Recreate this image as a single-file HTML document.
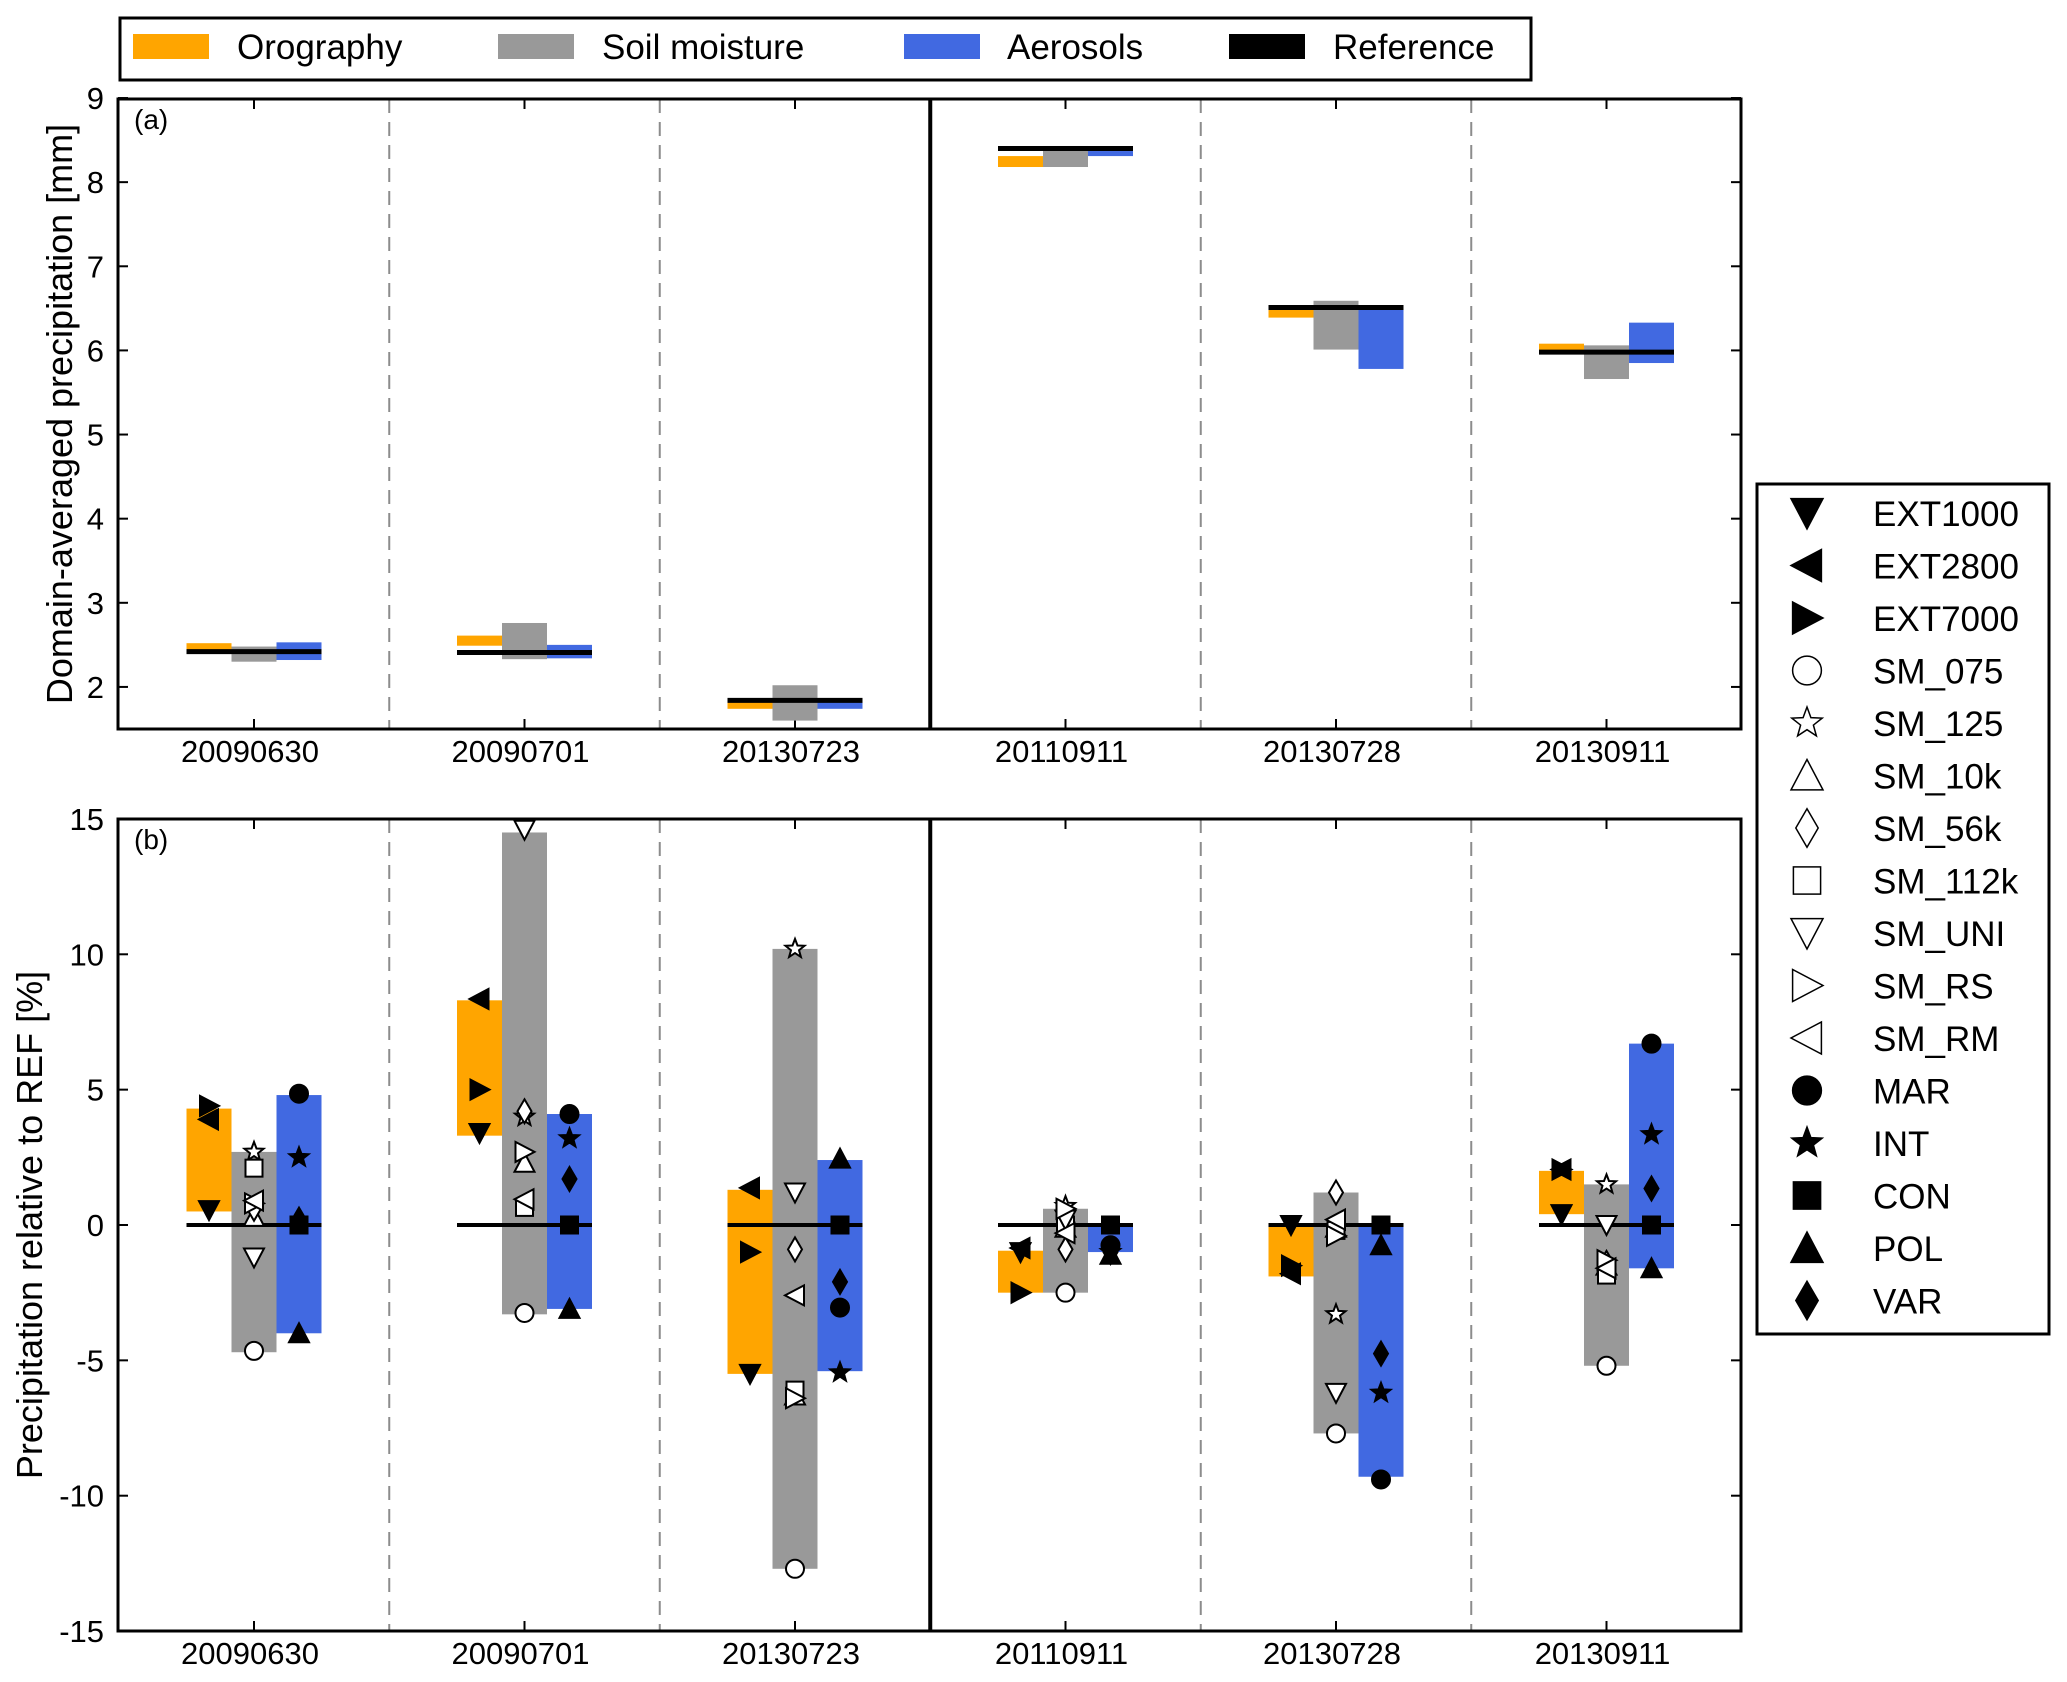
<!DOCTYPE html>
<html><head><meta charset="utf-8">
<style>
html,body{margin:0;padding:0;background:#fff;}
svg{display:block;font-family:"Liberation Sans",Arial,sans-serif;}
</style></head>
<body>
<svg id="fig" width="2067" height="1682" viewBox="0 0 2067 1682" xmlns="http://www.w3.org/2000/svg">
<g id="layer"></g>
</svg>
<script>
const dates = ["20090630","20090701","20130723","20110911","20130728","20130911"];
// Panel (a): domain-averaged precipitation [mm]
const refA = [2.42,2.41,1.84,8.40,6.51,5.98];
const orogLowA = [2.42,2.49,1.74,8.18,6.39,5.98];
const orogHighA = [2.52,2.61,1.86,8.31,6.53,6.08];
const soilLowA = [2.30,2.33,1.60,8.18,6.01,5.66];
const soilHighA = [2.48,2.76,2.02,8.43,6.59,6.06];
const aeroLowA = [2.32,2.34,1.74,8.31,5.78,5.85];
const aeroHighA = [2.53,2.50,1.85,8.37,6.53,6.33];
const yTicksA = [2,3,4,5,6,7,8,9];
// Panel (b): precipitation relative to REF [%]
const orogLowB = [0.5,3.3,-5.5,-2.5,-1.9,0.4];
const orogHighB = [4.3,8.3,1.3,-0.95,0,2.0];
const soilLowB = [-4.7,-3.3,-12.7,-2.5,-7.7,-5.2];
const soilHighB = [2.7,14.5,10.2,0.6,1.2,1.5];
const aeroLowB = [-4.0,-3.1,-5.4,-1.0,-9.3,-1.6];
const aeroHighB = [4.8,4.1,2.4,0,0,6.7];
const yTicksB = [-15,-10,-5,0,5,10,15];
// members
const EXT1000 = [0.55,3.4,-5.5,-1.0,0,0.4];
const EXT2800 = [3.9,8.35,1.37,-0.85,-1.8,2.05];
const EXT7000 = [4.4,5.0,-1.0,-2.5,-1.5,2.05];
const SM_075 = [-4.65,-3.25,-12.7,-2.5,-7.7,-5.2];
const SM_125 = [2.7,4.0,10.2,0.7,-3.3,1.5];
const SM_10k = [0.3,2.3,-6.3,-0.1,-0.1,-1.5];
const SM_56k = [0.6,4.2,-0.9,-0.9,1.2,-1.4];
const SM_112k = [2.1,0.65,-6.1,0,-0.2,-1.85];
const SM_UNI = [-1.2,14.6,1.2,0.2,-6.2,0];
const SM_RS = [0.8,2.7,-6.4,0.6,-0.4,-1.3];
const SM_RM = [0.9,0.95,-2.6,-0.3,0.2,-1.6];
const MAR = [4.85,4.1,-3.05,-0.75,-9.4,6.7];
const INT = [2.5,3.2,-5.45,-1.0,-6.2,3.35];
const CON = [0,0,0,0,0,0];
const POL = [-4.0,-3.1,2.45,-1.1,-0.75,-1.6];
const VAR = [0.2,1.7,-2.1,-1.0,-4.75,1.35];

const NS="http://www.w3.org/2000/svg";
const L=document.getElementById('layer');
function el(tag,attrs,parent){const e=document.createElementNS(NS,tag);for(const k in attrs)e.setAttribute(k,attrs[k]);(parent||L).appendChild(e);return e;}

const X0=118,X1=1741;
const xs=i=>254+270.5*i;
const BW=45;
const yA=v=>729-(v-1.5)*84.13;
const yB=v=>1225-v*27.07;
const ORANGE="#FFA500",GRAY="#999999",BLUE="#4169E1";

function marker(g,type,cx,cy,s,filled,sw){
  const fill=filled?"#000":"#fff";const st={fill:fill,stroke:"#000","stroke-width":sw};
  let e;
  if(type==='o'){e=el('circle',Object.assign({cx:cx,cy:cy,r:s*0.9},st),g);}
  else if(type==='s'){e=el('rect',Object.assign({x:cx-s*0.85,y:cy-s*0.85,width:s*1.7,height:s*1.7},st),g);}
  else if(type==='d'){e=el('polygon',Object.assign({points:`${cx},${cy-s*1.2} ${cx+s*0.7},${cy} ${cx},${cy+s*1.2} ${cx-s*0.7},${cy}`},st),g);}
  else if(type==='v'){e=el('polygon',Object.assign({points:`${cx-s},${cy-s*0.9} ${cx+s},${cy-s*0.9} ${cx},${cy+s}`},st),g);}
  else if(type==='^'){e=el('polygon',Object.assign({points:`${cx-s},${cy+s*0.9} ${cx+s},${cy+s*0.9} ${cx},${cy-s}`},st),g);}
  else if(type==='<'){e=el('polygon',Object.assign({points:`${cx+s*0.9},${cy-s} ${cx+s*0.9},${cy+s} ${cx-s},${cy}`},st),g);}
  else if(type==='>'){e=el('polygon',Object.assign({points:`${cx-s*0.9},${cy-s} ${cx-s*0.9},${cy+s} ${cx+s},${cy}`},st),g);}
  else if(type==='*'){let p=[];for(let k=0;k<10;k++){const r=k%2?s*0.42:s;const a=-Math.PI/2+k*Math.PI/5;p.push((cx+r*Math.cos(a)).toFixed(1)+","+(cy+r*Math.sin(a)).toFixed(1));}e=el('polygon',Object.assign({points:p.join(' ')},st),g);}
  return e;
}

function panel(top,bottom,yf,ticks,label,letter,labelX,pname){
  const g=el('g',{});
  
  
  for(let i=0;i<5;i++){
    if(i===2)continue;
    const x=xs(i+0.5);
    const d=el('line',{x1:x,x2:x,y1:top,y2:bottom,stroke:"#8c8c8c","stroke-width":2,"stroke-dasharray":"14,9"},g);
    
    
  }
  const s=el('line',{x1:xs(2.5),x2:xs(2.5),y1:top,y2:bottom,stroke:"#000","stroke-width":4},g);
  
  
  ticks.forEach(t=>{
    const y=yf(t);
    el('line',{x1:X0,x2:X0+10,y1:y,y2:y,stroke:"#000","stroke-width":2},g);
    el('line',{x1:X1-10,x2:X1,y1:y,y2:y,stroke:"#000","stroke-width":2},g);
    const tx=el('text',{x:104,y:y+11,"font-size":31,"text-anchor":"end"},g);
    tx.textContent=t;
    
    
  });
  dates.forEach((d,i)=>{
    const x=xs(i);
    el('line',{x1:x,x2:x,y1:top,y2:top+10,stroke:"#000","stroke-width":2},g);
    el('line',{x1:x,x2:x,y1:bottom-10,y2:bottom,stroke:"#000","stroke-width":2},g);
    const tx=el('text',{x:x-4,y:bottom+33,"font-size":31,"text-anchor":"middle"},g);
    tx.textContent=d;
    
    
  });
  const cy=(top+bottom)/2;
  const yl=el('text',{x:labelX,y:cy,"font-size":36,"text-anchor":"middle",transform:`rotate(-90 ${labelX} ${cy})`},g);
  yl.textContent=label;
  
  
  const lt=el('text',{x:134,y:top+30,"font-size":28},g);
  lt.textContent=letter;
  
  
  return g;
}
function frame(top,bottom){
  const f=el('rect',{x:X0,y:top,width:X1-X0,height:bottom-top,fill:"none",stroke:"#000","stroke-width":3});
  
  
}
function bar(g,i,k,lo,hi,yf,col,name){
  const x=xs(i)+(k-1)*BW-BW/2;
  const r=el('rect',{x:x,y:yf(hi),width:BW,height:Math.max(1,yf(lo)-yf(hi)),fill:col},g);
  
  
}

const topA=99,botA=729;
const ga=panel(topA,botA,yA,yTicksA,"Domain-averaged precipitation [mm]","(a)",72,"panel-a");
dates.forEach((d,i)=>{
  bar(ga,i,0,orogLowA[i],orogHighA[i],yA,ORANGE,'orography-range-bar');
  bar(ga,i,1,soilLowA[i],soilHighA[i],yA,GRAY,'soil-moisture-range-bar');
  bar(ga,i,2,aeroLowA[i],aeroHighA[i],yA,BLUE,'aerosols-range-bar');
  const r=el('line',{x1:xs(i)-1.5*BW,x2:xs(i)+1.5*BW,y1:yA(refA[i]),y2:yA(refA[i]),stroke:"#000","stroke-width":5},ga);
  
  
});
frame(topA,botA);

const topB=819,botB=1631;
const gb=panel(topB,botB,yB,yTicksB,"Precipitation relative to REF [%]","(b)",42,"panel-b");
dates.forEach((d,i)=>{
  bar(gb,i,0,orogLowB[i],orogHighB[i],yB,ORANGE,'orography-range-bar');
  bar(gb,i,1,soilLowB[i],soilHighB[i],yB,GRAY,'soil-moisture-range-bar');
  bar(gb,i,2,aeroLowB[i],aeroHighB[i],yB,BLUE,'aerosols-range-bar');
  const r=el('line',{x1:xs(i)-1.5*BW,x2:xs(i)+1.5*BW,y1:yB(0),y2:yB(0),stroke:"#000","stroke-width":4},gb);
  
  
});
const members=[
 ["EXT1000",EXT1000,'v',true,0],["EXT2800",EXT2800,'<',true,0],["EXT7000",EXT7000,'>',true,0],
 ["SM_075",SM_075,'o',false,1],["SM_125",SM_125,'*',false,1],["SM_10k",SM_10k,'^',false,1],["SM_56k",SM_56k,'d',false,1],
 ["SM_112k",SM_112k,'s',false,1],["SM_UNI",SM_UNI,'v',false,1],["SM_RS",SM_RS,'>',false,1],["SM_RM",SM_RM,'<',false,1],
 ["MAR",MAR,'o',true,2],["INT",INT,'*',true,2],["CON",CON,'s',true,2],["POL",POL,'^',true,2],["VAR",VAR,'d',true,2]
];
members.forEach(m=>{
  m[1].forEach((v,i)=>{
    const mk=marker(gb,m[2],xs(i)+(m[4]-1)*BW,yB(v),10,m[3],2);
    
    
  });
});
frame(topB,botB);

const lg=el('g',{});


el('rect',{x:120,y:18,width:1411,height:62,fill:"#fff",stroke:"#000","stroke-width":3},lg);
[["Orography",ORANGE,133,237],["Soil moisture",GRAY,498,602],["Aerosols",BLUE,904,1007],["Reference","#000",1229,1333]].forEach(e=>{
  const it=el('g',{},lg);
  
  
  el('rect',{x:e[2],y:34,width:76,height:25,fill:e[1]},it);
  const t=el('text',{x:e[3],y:59,"font-size":35},it);
  t.textContent=e[0];
});

const rg=el('g',{});


el('rect',{x:1757,y:484,width:292,height:850,fill:"#fff",stroke:"#000","stroke-width":3},rg);
members.forEach((m,j)=>{
  const y=513+j*52.5;
  const it=el('g',{},rg);
  
  
  marker(it,m[2],1807,y,16,m[3],1.5);
  const t=el('text',{x:1873,y:y+13,"font-size":35},it);
  t.textContent=m[0];
});
</script>
</body></html>
